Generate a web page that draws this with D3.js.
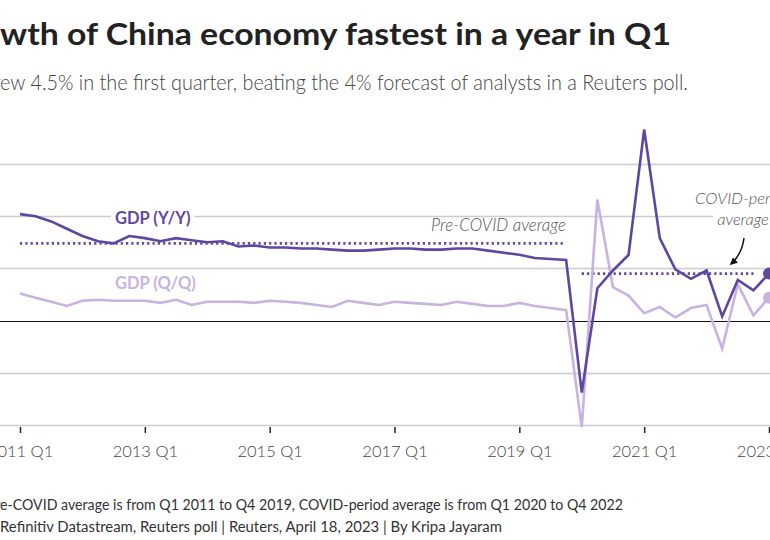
<!DOCTYPE html>
<html>
<head>
<meta charset="utf-8">
<script src="https://cdn.jsdelivr.net/npm/d3@7/dist/d3.min.js"></script>
<style>
  html, body { margin: 0; padding: 0; background: #fff; }
  svg { display: block; font-family: Lato, "Open Sans", sans-serif; }
</style>
</head>
<body>
<svg id="chart" width="770" height="540"></svg>
<script>
// ---- Data (China GDP growth, %, 2011 Q1 .. 2023 Q1) ----
const quarters = d3.range(2011, 2024).flatMap(y => [1,2,3,4].map(q => `${y} Q${q}`)).slice(0, 49);
const yoyValues = [10.2,10.0,9.5,8.8, 8.1,7.6,7.4,8.1, 7.9,7.6,7.9,7.7, 7.5,7.6,7.1,7.2,
                   7.0,7.0,6.9,6.9, 6.8,6.7,6.7,6.8, 6.9,6.9,6.8,6.8, 6.9,6.9,6.7,6.5,
                   6.3,6.0,5.9,5.8, -6.9,3.1,4.8,6.3, 18.3,7.9,4.9,4.0, 4.8,0.4,3.9,2.9, 4.5];
const qoqValues = [2.6,2.2,1.8,1.4, 1.9,2.0,1.9,1.9, 1.9,1.7,2.0,1.5, 1.8,1.8,1.8,1.7,
                   1.9,1.8,1.7,1.5, 1.3,1.9,1.7,1.5, 1.8,1.7,1.6,1.5, 1.8,1.6,1.4,1.4,
                   1.7,1.4,1.2,1.0, -10.2,11.6,3.2,2.4, 0.7,1.3,0.3,1.2, 1.5,-2.7,3.5,0.5, 2.2];
const tickQuarters = ["2011 Q1","2013 Q1","2015 Q1","2017 Q1","2019 Q1","2021 Q1","2023 Q1"];
const yTicks = [-10, -5, 0, 5, 10, 15];
const preCovidAvg = 7.4;   // Q1 2011 - Q4 2019
const covidAvg = 4.5;      // Q1 2020 - Q4 2022

const C_YOY = "#5f46a0", C_QOQ = "#c8b2e2";

const svg = d3.select("#chart");
const x = d3.scalePoint().domain(quarters).range([20, 769]);
const y = d3.scaleLinear().domain([-10, 15]).range([425, 164]);

// Text cropped at the left edge: right end fixed, visible part stretched to its width
function croppedText(txt, visibleFrom, endX, baseY, size, weight, fill) {
  const t = svg.append("text").attr("x", endX).attr("y", baseY).attr("text-anchor", "end")
    .attr("font-size", size).attr("font-weight", weight).attr("fill", fill).text(txt);
  const n = t.node();
  const idx = txt.indexOf(visibleFrom);
  const full = n.getComputedTextLength();
  const suffix = n.getSubStringLength(idx, txt.length - idx);
  t.attr("textLength", full * endX / suffix).attr("lengthAdjust", "spacingAndGlyphs");
  return t;
}

croppedText("Growth of China economy fastest in a year in Q1", "wth", 671, 45, 31, 700, "#222");
croppedText("China's economy grew 4.5% in the first quarter, beating the 4% forecast of analysts in a Reuters poll.",
            "ew 4.5%", 688, 90, 21.5, 300, "#444");

// Gridlines
svg.append("g").selectAll("line").data(yTicks).join("line")
  .attr("x1", 0).attr("x2", 770)
  .attr("y1", d => Math.round(y(d)) + 0.5).attr("y2", d => Math.round(y(d)) + 0.5)
  .attr("stroke", d => d === 0 ? "#111" : "#ccc")
  .attr("stroke-width", d => d === 0 ? 1.2 : 1.3);

// X axis
const xAxis = d3.axisBottom(x).tickValues(tickQuarters).tickSize(6).tickPadding(12);
const gx = svg.append("g").attr("transform", "translate(0,427)").call(xAxis);
gx.select(".domain").remove();
gx.selectAll(".tick line").attr("stroke", "#222").attr("stroke-width", 1.5);
gx.selectAll(".tick text").attr("font-size", 16.5).attr("font-weight", 300)
  .attr("fill", "#444").attr("font-family", "Lato, sans-serif");

// Average lines
const avgG = svg.append("g");
avgG.append("line")
  .attr("x1", x("2011 Q1")).attr("x2", x("2019 Q4") - 3)
  .attr("y1", y(preCovidAvg)).attr("y2", y(preCovidAvg))
  .attr("stroke", C_YOY).attr("stroke-width", 2.6).attr("stroke-dasharray", "2.2,3.1");
avgG.append("line")
  .attr("x1", x("2020 Q1")).attr("x2", x("2022 Q4"))
  .attr("y1", y(covidAvg)).attr("y2", y(covidAvg))
  .attr("stroke", C_YOY).attr("stroke-width", 2.6).attr("stroke-dasharray", "2.2,3.1");

// Labels with white backgrounds
function label(txt, px, py, opts) {
  const g = svg.append("g");
  const t = g.append("text").attr("x", px).attr("y", py)
    .attr("text-anchor", opts.anchor || "start")
    .attr("font-size", opts.size).attr("font-weight", opts.weight || 400)
    .attr("font-style", opts.style || "normal").attr("fill", opts.fill).text(txt);
  if (opts.bg) {
    const b = t.node().getBBox();
    g.insert("rect", "text").attr("x", b.x - 4).attr("y", b.y).attr("width", b.width + 8)
      .attr("height", b.height).attr("fill", "#fff");
  }
  return g;
}

// Lines
const line = d3.line().x((d, i) => x(quarters[i])).y(d => y(d));
svg.append("path").datum(qoqValues).attr("d", line).attr("fill", "none")
  .attr("stroke", C_QOQ).attr("stroke-width", 2.6).attr("stroke-linejoin", "miter");
svg.append("path").datum(yoyValues).attr("d", line).attr("fill", "none")
  .attr("stroke", C_YOY).attr("stroke-width", 2.6).attr("stroke-linejoin", "miter");

// End dots
svg.append("circle").attr("cx", x("2023 Q1")).attr("cy", y(qoqValues[48])).attr("r", 6).attr("fill", C_QOQ);
svg.append("circle").attr("cx", x("2023 Q1")).attr("cy", y(yoyValues[48])).attr("r", 6).attr("fill", C_YOY);

label("GDP (Y/Y)", 115, 224, {size: 16.5, weight: 700, fill: C_YOY, bg: true});
label("GDP (Q/Q)", 115, 289, {size: 16.5, weight: 700, fill: C_QOQ, bg: true});
label("Pre-COVID average", 431, 231, {size: 17, weight: 300, style: "italic", fill: "#555"});
label("COVID-period", 743, 204, {size: 16.5, weight: 300, style: "italic", fill: "#555", anchor: "middle", bg: true});
label("average", 743, 225, {size: 16.5, weight: 300, style: "italic", fill: "#555", anchor: "middle", bg: true});

// Arrow
const defs = svg.append("defs");
defs.append("marker").attr("id", "ah").attr("viewBox", "0 0 10 10").attr("refX", 8).attr("refY", 5)
  .attr("markerWidth", 5).attr("markerHeight", 5).attr("orient", "auto")
  .append("path").attr("d", "M0,0 L10,5 L0,10 Z").attr("fill", "#111");
svg.append("path").attr("d", "M744,238 Q742,254 731,264").attr("fill", "none")
  .attr("stroke", "#111").attr("stroke-width", 1.5).attr("marker-end", "url(#ah)");

// Footnotes
croppedText("Note: Pre-COVID average is from Q1 2011 to Q4 2019, COVID-period average is from Q1 2020 to Q4 2022",
            "e-COVID", 623, 510, 15.5, 400, "#333");
croppedText("Source: Refinitiv Datastream, Reuters poll | Reuters, April 18, 2023 | By Kripa Jayaram",
            "Refinitiv", 502, 532, 15.5, 400, "#333");
</script>
</body>
</html>
